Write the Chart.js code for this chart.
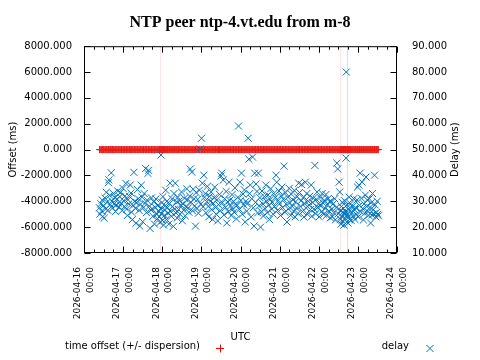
<!DOCTYPE html>
<html>
<head>
<meta charset="utf-8">
<script src="https://cdn.jsdelivr.net/npm/chart.js@4.4.1/dist/chart.umd.min.js"></script>
<style>
html, body { margin:0; padding:0; background:#fff; }
</style>
</head>
<body>
<canvas id="myChart" width="480" height="360"></canvas>
<script>
// x values are hours since 2026-04-16 00:00 UTC
let dayLabels = ["2026-04-16","2026-04-17","2026-04-18","2026-04-19","2026-04-20","2026-04-21","2026-04-22","2026-04-23","2026-04-24"];

// polls: [hour, offset ms, delay ms]
let samples = [
  [9.5,0,27.5],[9.8,0,25.0],[10.3,0,29.0],[10.8,0,26.2],[11.2,0,30.5],[11.5,0,24.1],[12.0,0,28.3],[12.4,0,23.5],[12.9,0,31.2],[13.3,0,27.0],
  [13.7,0,33.5],[14.1,0,29.6],[14.6,0,26.5],[15.0,0,37.2],[15.3,0,38.3],[15.8,0,32.3],[16.2,0,28.8],[16.7,0,41.0],[17.1,0,30.1],[17.5,0,27.4],
  [18.0,0,33.0],[18.4,0,29.0],[18.9,0,31.5],[19.3,0,26.0],[19.8,0,28.5],[20.2,0,30.8],[20.7,0,34.0],[21.1,0,29.3],
  [21.6,0,27.8],[22.0,0,31.8],[22.5,0,33.4],[23.0,0,29.1],[23.4,0,26.4],[23.9,0,35.0],[24.3,0,30.2],[24.8,0,28.0],[25.2,0,32.0],[25.7,0,36.9],
  [26.1,0,27.0],[26.6,0,24.5],[27.0,0,30.6],[27.5,0,29.0],[27.9,0,31.9],[28.4,0,36.3],[28.8,0,33.2],[29.2,0,25.8],[29.7,0,22.9],[30.1,0,28.4],
  [30.6,0,41.2],[31.0,0,30.0],[31.5,0,27.3],[31.9,0,21.5],[32.4,0,29.5],[32.8,0,34.5],[33.3,0,31.0],
  [33.8,0,26.5],[34.2,0,20.4],[34.7,0,28.9],[35.1,0,36.2],[35.6,0,31.6],[36.0,0,22.1],[36.5,0,27.5],[36.9,0,33.0],[37.4,0,29.2],[37.8,0,42.7],
  [38.3,0,25.6],[38.7,0,30.4],[39.2,0,40.8],[39.6,0,42.0],[40.1,0,28.1],[40.5,0,19.5],[41.0,0,26.7],[41.4,0,31.3],[41.9,0,27.0],[42.3,0,24.2],
  [42.8,0,29.8],[43.2,0,21.2],[43.7,0,27.6],[44.1,0,30.9],[44.6,0,25.0],[45.0,0,23.3],[45.5,0,28.5],[45.9,0,26.1],
  [46.3,0,24.0],[46.6,0,21.8],[46.9,0,27.2],[47.2,0,47.9],[47.5,0,25.2],[47.8,0,29.5],[48.1,0,22.6],[48.4,0,31.8],[48.8,0,20.8],[49.1,0,26.8],
  [49.4,0,24.6],[49.8,0,28.3],[50.1,0,34.3],[50.5,0,23.0],[50.8,0,30.0],[51.2,0,27.5],[51.6,0,25.5],[52.0,0,21.2],[52.4,0,29.1],[52.8,0,37.0],
  [53.2,0,26.0],[53.6,0,24.2],[54.0,0,31.0],[54.4,0,28.0],[54.8,0,20.3],[55.2,0,33.0],[55.6,0,27.0],[56.0,0,37.0],[56.4,0,25.5],[56.8,0,29.8],
  [57.2,0,23.5],[57.6,0,31.5],[58.0,0,26.8],
  [58.5,0,30.2],[58.9,0,25.0],[59.4,0,28.6],[59.8,0,33.6],[60.3,0,22.5],[60.7,0,29.0],[61.2,0,26.6],[61.6,0,31.2],[62.1,0,24.4],[62.5,0,28.0],
  [63.0,0,34.8],[63.4,0,30.5],[63.9,0,27.4],[64.3,0,25.8],[64.8,0,32.0],[65.2,0,42.5],[65.7,0,29.6],[66.1,0,41.3],[66.6,0,26.3],[67.0,0,34.7],
  [67.5,0,31.0],[67.9,0,28.2],[68.4,0,20.4],[68.8,0,33.4],[69.3,0,27.2],[69.7,0,30.8],[70.2,0,25.4],
  [70.8,0,34.3],[71.2,0,50.2],[71.7,0,29.0],[72.1,0,54.4],[72.6,0,37.0],[73.0,0,27.9],[73.5,0,40.1],[73.9,0,31.6],[74.4,0,33.0],[74.8,0,25.6],
  [75.3,0,29.8],[75.7,0,35.8],[76.2,0,28.0],[76.6,0,24.0],[77.1,0,31.9],[77.5,0,30.0],[78.0,0,33.6],[78.4,0,26.8],[78.9,0,23.0],[79.3,0,29.2],
  [79.8,0,31.4],[80.2,0,35.5],[80.7,0,27.6],[81.1,0,25.0],[81.6,0,30.6],[82.0,0,22.4],[82.5,0,28.7],
  [83.1,0,32.7],[83.6,0,26.4],[84.0,0,39.8],[84.5,0,40.9],[84.9,0,29.4],[85.4,0,38.2],[85.8,0,24.7],[86.3,0,31.0],[86.7,0,27.6],[87.2,0,33.8],
  [87.6,0,21.6],[88.1,0,29.8],[88.5,0,26.0],[89.0,0,37.4],[89.4,0,30.4],[89.9,0,28.2],[90.3,0,24.5],[90.8,0,32.6],[91.2,0,27.0],[91.7,0,30.0],
  [92.1,0,25.8],[92.6,0,35.2],[93.0,0,29.0],[93.5,0,23.2],[93.9,0,28.4],[94.4,0,31.5],[94.8,0,59.1],
  [95.3,0,26.9],[95.7,0,37.4],[96.2,0,30.3],[96.6,0,40.9],[97.1,0,25.0],[97.5,0,32.8],[98.0,0,28.6],[98.4,0,34.4],[98.9,0,22.0],[99.3,0,30.0],
  [99.8,0,26.2],[100.2,0,29.0],[100.7,0,54.4],[101.1,0,46.3],[101.6,0,33.0],[102.0,0,36.3],[102.5,0,24.0],[102.9,0,31.0],[103.4,0,47.1],[103.8,0,27.5],
  [104.3,0,20.4],[104.7,0,40.9],[105.2,0,29.6],[105.6,0,36.7],[106.1,0,33.8],[106.5,0,25.5],[107.0,0,40.9],[107.4,0,28.3],
  [107.9,0,31.4],[108.3,0,20.0],[108.8,0,26.0],[109.2,0,34.0],[109.7,0,29.0],[110.1,0,24.3],[110.6,0,31.8],[111.0,0,27.2],[111.5,0,36.3],[111.9,0,30.0],
  [112.4,0,25.6],[112.8,0,32.4],[113.3,0,28.5],[113.7,0,23.0],[114.2,0,30.7],[114.6,0,34.9],[115.1,0,27.0],[115.5,0,29.6],[116.0,0,25.0],[116.4,0,33.0],
  [116.9,0,28.0],[117.3,0,31.5],[117.8,0,40.1],[118.2,0,37.4],[118.7,0,26.5],[119.1,0,30.3],
  [119.6,0,34.0],[120.0,0,29.0],[120.5,0,24.5],[120.9,0,32.2],[121.4,0,35.5],[121.8,0,27.6],[122.3,0,30.8],[122.7,0,43.6],[123.2,0,25.8],[123.6,0,33.3],
  [124.1,0,28.9],[124.5,0,22.0],[125.0,0,31.6],[125.4,0,27.0],[125.9,0,35.0],[126.3,0,29.5],[126.8,0,24.6],[127.2,0,32.8],[127.7,0,28.0],[128.1,0,30.6],
  [128.6,0,26.2],[129.0,0,34.2],[129.5,0,23.9],[129.9,0,29.9],[130.4,0,27.4],[130.8,0,31.8],[131.3,0,25.3],[131.7,0,37.0],
  [132.2,0,33.4],[132.6,0,28.0],[133.1,0,30.2],[133.5,0,36.5],[134.0,0,26.0],[134.4,0,31.4],[134.9,0,23.9],[135.3,0,29.2],[135.8,0,37.4],[136.2,0,27.5],
  [136.7,0,33.0],[137.1,0,25.0],[137.6,0,30.0],[138.0,0,28.5],[138.5,0,32.0],[138.9,0,26.8],[139.4,0,36.3],[139.8,0,24.2],[140.3,0,29.5],[140.7,0,31.2],
  [141.2,0,27.0],[141.6,0,43.9],[142.1,0,25.2],[142.5,0,30.8],[143.0,0,33.6],[143.4,0,27.7],[143.9,0,29.0],[144.3,0,24.0],
  [144.8,0,31.5],[145.2,0,28.2],[145.7,0,26.0],[146.1,0,33.0],[146.6,0,29.4],[147.0,0,25.0],[147.5,0,30.4],[147.9,0,27.2],[148.4,0,32.6],[148.8,0,24.6],
  [149.3,0,28.6],[149.7,0,31.0],[150.2,0,26.3],[150.6,0,29.8],[151.1,0,23.6],[151.5,0,30.0],[152.0,0,27.0],[152.4,0,24.0],[152.9,0,29.0],[153.3,0,25.6],
  [153.8,0,31.0],[154.2,0,22.8],[154.7,0,27.6],[155.1,0,44.8],[155.6,0,42.5],[156.0,0,25.2],[156.5,0,37.4],[156.9,0,33.6],
  [157.2,0,23.0],[157.4,0,26.5],[157.7,0,21.2],[157.9,0,28.0],[158.2,0,24.2],[158.4,0,29.6],[158.7,0,22.4],[158.9,0,25.8],[159.2,0,27.2],[159.4,0,20.8],
  [159.7,0,24.8],[159.9,0,30.2],[160.2,0,23.4],[160.4,0,26.0],[160.7,0,46.7],[160.9,0,80.0],[161.2,0,22.0],[161.4,0,28.6],[161.7,0,25.0],[161.9,0,21.6],
  [162.2,0,27.0],[162.4,0,24.0],[162.7,0,31.6],[162.9,0,23.0],[163.2,0,26.4],[163.5,0,29.0],[163.9,0,22.6],[164.2,0,25.4],[164.6,0,28.0],[165.0,0,24.2],
  [165.4,0,31.0],[165.8,0,26.8],[166.2,0,23.0],[166.6,0,27.6],[167.0,0,25.0],[167.4,0,30.5],[167.8,0,35.5],[168.2,0,24.0],[168.6,0,36.3],[169.0,0,28.4],
  [169.4,0,40.9],
  [169.8,0,26.0],[170.2,0,31.2],[170.6,0,37.4],[171.0,0,27.2],[171.4,0,22.8],[171.8,0,29.0],[172.2,0,25.4],[172.6,0,32.4],[173.0,0,39.4],[173.4,0,28.0],
  [173.8,0,30.5],[174.2,0,26.0],[174.6,0,24.6],[175.0,0,31.0],[175.4,0,27.6],[175.8,0,21.6],[176.2,0,29.4],[176.6,0,24.7],[177.0,0,33.0],[177.4,0,26.8],
  [177.8,0,25.2],[178.2,0,40.1],[178.6,0,28.6],[179.0,0,24.0],[179.4,0,25.6],[179.8,0,30.0],[180.2,0,25.0],[180.6,0,24.4]
];

// polls whose dispersion bar is big enough to show: [hour, dispersion ms]
let wideDispersion = [[46.4, 9500], [157.0, 9800], [161.1, 12000], [161.2, 12000]];

let offsetColor = "rgb(232,28,22)";
let delayColor = "#0072bd";

let offsetPoints = samples.map(s => ({x: s[0], y: s[1]}));
let delayPoints = samples.map(s => ({x: s[0], y: s[2]}));

// gnuplot style frame, inward ticks, error bars, right title and key
let gnuLook = {
  id: "gnuLook",
  beforeDatasetsDraw(chart) {
    let ctx = chart.ctx, a = chart.chartArea, sx = chart.scales.x, sy = chart.scales.y;
    ctx.save();
    ctx.beginPath();
    ctx.rect(a.left, a.top, a.right - a.left, a.bottom - a.top);
    ctx.clip();
    ctx.strokeStyle = "rgba(255,0,0,0.10)";
    ctx.lineWidth = 1;
    wideDispersion.forEach(d => {
      let px = Math.round(sx.getPixelForValue(d[0])) + 0.5;
      ctx.beginPath();
      ctx.moveTo(px, sy.getPixelForValue(-d[1]));
      ctx.lineTo(px, sy.getPixelForValue(d[1]));
      ctx.stroke();
    });
    ctx.restore();
  },
  afterDraw(chart) {
    let ctx = chart.ctx, a = chart.chartArea;
    let sx = chart.scales.x, sy = chart.scales.y, sy2 = chart.scales.y2;
    ctx.save();
    ctx.strokeStyle = "#000";
    ctx.lineWidth = 1;
    let l = a.left + 0.5, r = a.right - 0.5, t = a.top + 0.5, b = a.bottom - 0.5;
    ctx.strokeRect(l, t, r - l, b - t);
    ctx.beginPath();
    sx.ticks.forEach(tk => {
      let px = Math.round(sx.getPixelForValue(tk.value)) + 0.5;
      let len = tk.value % 24 === 0 ? 6 : 3;
      ctx.moveTo(px, b); ctx.lineTo(px, b - len);
      ctx.moveTo(px, t); ctx.lineTo(px, t + len);
    });
    sy.ticks.forEach(tk => {
      let py = Math.round(sy.getPixelForValue(tk.value)) + 0.5;
      ctx.moveTo(l, py); ctx.lineTo(l + 6, py);
    });
    sy2.ticks.forEach(tk => {
      let py = Math.round(sy2.getPixelForValue(tk.value)) + 0.5;
      ctx.moveTo(r, py); ctx.lineTo(r - 6, py);
    });
    ctx.stroke();

    // right axis title, reads bottom to top like the left one
    ctx.fillStyle = "#000";
    ctx.font = "10px 'DejaVu Sans'";
    ctx.textAlign = "center";
    ctx.textBaseline = "middle";
    ctx.save();
    ctx.translate(455, (a.top + a.bottom) / 2);
    ctx.rotate(-Math.PI / 2);
    ctx.fillText(sy2.options.title.text, 0, 0);
    ctx.restore();

    // key at the bottom
    let ds = chart.data.datasets;
    let keyY = 346;
    ctx.textAlign = "right";
    ctx.fillText(ds[0].label, 200, keyY);
    ctx.fillText(ds[1].label, 409, keyY);
    ctx.beginPath();
    ctx.strokeStyle = "red";
    ctx.moveTo(216, keyY + 2.5); ctx.lineTo(224, keyY + 2.5);
    ctx.moveTo(220.5, keyY - 1.5); ctx.lineTo(220.5, keyY + 6.5);
    ctx.stroke();
    ctx.beginPath();
    ctx.strokeStyle = delayColor;
    ctx.moveTo(426.5, keyY - 1); ctx.lineTo(433.5, keyY + 6);
    ctx.moveTo(433.5, keyY - 1); ctx.lineTo(426.5, keyY + 6);
    ctx.stroke();
    ctx.restore();
  }
};

Chart.defaults.font.family = "'DejaVu Sans'";
Chart.defaults.font.size = 10;
Chart.defaults.color = "#000";

new Chart("myChart", {
  type: "scatter",
  data: {
    datasets: [{
      label: "time offset (+/- dispersion)",
      data: offsetPoints,
      yAxisID: "y",
      pointStyle: "cross",
      pointRadius: 3.5,
      borderColor: offsetColor,
      backgroundColor: offsetColor,
      borderWidth: 1,
      order: 1
    }, {
      label: "delay",
      data: delayPoints,
      yAxisID: "y2",
      pointStyle: "crossRot",
      pointRadius: 5,
      borderColor: delayColor,
      backgroundColor: delayColor,
      borderWidth: 1,
      order: 0
    }]
  },
  options: {
    responsive: false,
    animation: false,
    events: [],
    layout: {padding: 0},
    plugins: {
      legend: {display: false},
      tooltip: {enabled: false},
      title: {
        display: true,
        text: "NTP peer ntp-4.vt.edu from m-8",
        color: "#000",
        font: {family: "'Liberation Serif'", size: 16, weight: "bold"},
        padding: {top: 13, bottom: 14}
      }
    },
    scales: {
      x: {
        type: "linear",
        position: "bottom",
        min: 0,
        max: 192,
        grid: {display: false},
        border: {display: false},
        ticks: {
          stepSize: 6,
          autoSkip: false,
          minRotation: 90,
          maxRotation: 90,
          labelOffset: -6,
          padding: 6,
          font: {size: 9, lineHeight: 1.4},
          callback: v => v % 24 === 0 ? [dayLabels[v / 24], "00:00"] : ""
        },
        title: {display: true, text: "UTC", padding: {top: 0, bottom: 17}},
        afterFit: s => { s.height = 107; }
      },
      y: {
        position: "left",
        min: -8000,
        max: 8000,
        grid: {display: false},
        border: {display: false},
        ticks: {stepSize: 2000, padding: 4, callback: v => v.toFixed(3)},
        title: {display: true, text: "Offset (ms)", padding: {top: 7, bottom: 0}},
        afterFit: s => { s.width = 84; }
      },
      y2: {
        position: "right",
        min: 10,
        max: 90,
        grid: {display: false},
        border: {display: false},
        ticks: {stepSize: 10, padding: 7, callback: v => v.toFixed(3)},
        title: {display: false, text: "Delay (ms)"},
        afterFit: s => { s.width = 83; }
      }
    }
  },
  plugins: [gnuLook]
});
</script>
</body>
</html>
